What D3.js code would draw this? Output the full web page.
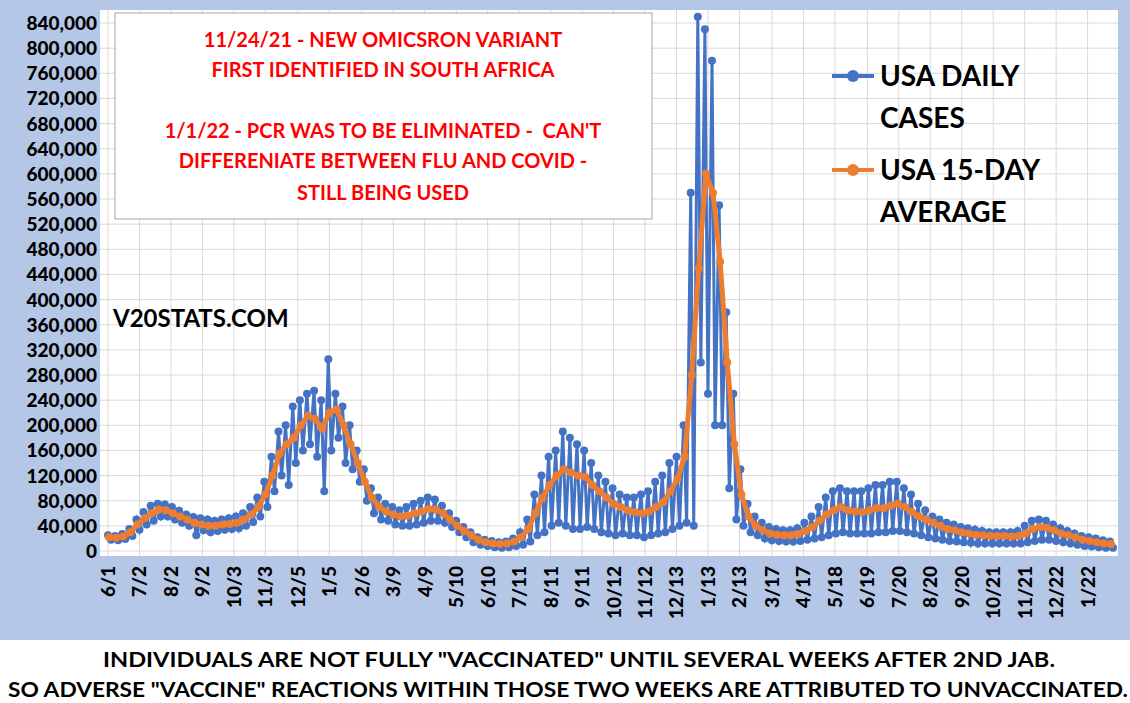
<!DOCTYPE html>
<html><head><meta charset="utf-8">
<script src="https://cdn.jsdelivr.net/npm/d3@7"></script>
<style>body{margin:0;background:#fff}svg{display:block}</style>
</head><body>
<svg id="chart" width="1130" height="703"></svg>
<script>
// weekly readings (thousands), first week = 6/1/2020
var avgCases = [22,21,23,30,42,52,60,66,65,60,55,50,45,42,40,40,42,43,45,50,58,70,
  90,120,155,170,180,200,215,210,195,220,225,200,170,
  140,110,85,70,63,58,55,56,60,63,67,66,60,50,40,32,25,18,
  14,12,11,12,15,22,35,
  60,85,105,120,130,125,120,118,105,95,85,75,70,65,62,60,63,70,78,95,115,150,
  280,450,600,570,460,300,170,90,55,
  40,33,28,26,25,25,27,32,38,48,58,65,70,65,63,62,65,68,68,72,75,70,62,55,50,45,40,35,33,30,28,26,25,24,24,24,23,24,28,35,38,37,33,28,25,22,18,16,14,12,11];
var dailyHigh = [25,24,27,35,50,62,72,75,74,70,64,58,54,52,50,48,50,52,55,60,70,85,
  110,150,190,200,230,240,250,255,240,305,250,230,200,
  160,130,100,85,75,70,65,70,75,80,85,82,72,60,48,38,30,22,
  18,16,14,15,20,30,50,
  90,120,150,160,190,180,170,160,140,120,110,100,90,85,85,90,95,110,120,140,150,200,
  570,850,830,780,550,380,250,130,75,
  55,45,38,35,33,33,36,45,55,70,85,95,100,95,95,95,100,105,105,110,110,100,90,75,65,55,50,45,42,38,36,34,32,30,30,30,30,32,40,48,50,48,42,36,32,28,24,22,20,17,15];
var dailyLow = [18,17,19,24,34,42,48,55,55,50,45,40,25,33,30,32,34,35,36,40,46,55,
  70,95,120,105,140,160,170,150,95,160,180,140,130,
  110,80,60,50,48,42,40,40,42,45,48,48,45,38,30,22,14,10,
  8,6,5,6,8,10,15,
  25,30,40,45,40,35,35,38,35,30,28,25,28,25,25,22,25,28,30,35,40,45,
  40,300,250,200,200,100,50,40,30,
  25,20,17,16,15,15,16,18,20,22,25,28,30,28,28,28,28,30,30,32,32,30,28,25,22,20,18,16,15,14,13,12,12,12,12,12,12,12,14,16,18,18,16,14,12,10,8,7,6,5,5];
var tickDates = ["2020-06-01","2020-07-02","2020-08-02","2020-09-02","2020-10-03","2020-11-03","2020-12-05",
  "2021-01-05","2021-02-06","2021-03-09","2021-04-09","2021-05-10","2021-06-10","2021-07-11","2021-08-11",
  "2021-09-11","2021-10-12","2021-11-12","2021-12-13","2022-01-13","2022-02-13","2022-03-17","2022-04-17",
  "2022-05-18","2022-06-19","2022-07-20","2022-08-20","2022-09-20","2022-10-21","2022-11-21","2022-12-22","2023-01-22"];
var yTicks = d3.range(0, 840001, 40000);

var parse = d3.timeParse("%Y-%m-%d");
var start = parse("2020-06-01");
var wk = function(i, off){ return d3.timeDay.offset(start, i*7 + (off||0)); };

var svg = d3.select("#chart");
svg.append("rect").attr("width",1130).attr("height",640).attr("fill","#b4c7e7");
svg.append("rect").attr("x",100).attr("y",10).attr("width",1018).attr("height",546).attr("fill","#fff");

var x = d3.scaleTime().domain([start, parse("2023-02-16")]).range([108, 1113]);
var y = d3.scaleLinear().domain([0, 840000]).range([551, 23]);

// grid
svg.append("g").selectAll("line").data(yTicks).join("line")
  .attr("x1",100).attr("x2",1118).attr("y1",d=>y(d)).attr("y2",d=>y(d))
  .attr("stroke","#d9d9d9");
svg.append("g").selectAll("line").data(tickDates).join("line")
  .attr("x1",d=>x(parse(d))).attr("x2",d=>x(parse(d))).attr("y1",10).attr("y2",556)
  .attr("stroke","#d9d9d9");

// y axis labels
svg.append("g").selectAll("text").data(yTicks).join("text")
  .attr("x",97).attr("y",d=>y(d)+7).attr("text-anchor","end")
  .attr("font-family","Lato, sans-serif").attr("font-weight","900").attr("font-size",19)
  .text(d3.format(","));
// x axis labels
svg.append("g").selectAll("text").data(tickDates).join("text")
  .attr("transform",d=>"translate("+(x(parse(d))+7)+",566) rotate(-90)")
  .attr("text-anchor","end")
  .attr("font-family","Lato, sans-serif").attr("font-weight","900").attr("font-size",19)
  .text(d=>d3.timeFormat("%-m/%-d")(parse(d)));

// series
var daily = [];
dailyHigh.forEach(function(h,i){
  daily.push({d: wk(i,0), v: h*1000});
  daily.push({d: wk(i,3), v: dailyLow[i]*1000});
});
var avg = avgCases.map((v,i)=>({d: wk(i,1), v: v*1000}));
var line = d3.line().x(p=>x(p.d)).y(p=>y(p.v));

function series(data, col, w){
  svg.append("path").datum(data).attr("d",line).attr("fill","none")
    .attr("stroke",col).attr("stroke-width",w);
  svg.append("g").selectAll("circle").data(data).join("circle")
    .attr("cx",p=>x(p.d)).attr("cy",p=>y(p.v)).attr("r",4).attr("fill",col);
}
series(daily, "#4472c4", 3);
series(avg, "#ed7d31", 5);

// annotation box
svg.append("rect").attr("x",115).attr("y",13).attr("width",537).attr("height",206)
  .attr("fill","#fff").attr("stroke","#a6a6a6");
var notes = [["11/24/21 - NEW OMICSRON VARIANT",47],["FIRST IDENTIFIED IN SOUTH AFRICA",77],
  ["1/1/22 - PCR WAS TO BE ELIMINATED -  CAN'T",138],["DIFFERENIATE BETWEEN FLU AND COVID -",168],
  ["STILL BEING USED",200]];
svg.append("g").selectAll("text").data(notes).join("text")
  .attr("x",383).attr("y",d=>d[1]).attr("text-anchor","middle")
  .attr("font-family","Lato, sans-serif").attr("font-weight","bold").attr("font-size",20)
  .attr("fill","#ff0000").style("white-space","pre").text(d=>d[0]);

svg.append("text").attr("x",113).attr("y",327).attr("font-family","Lato, sans-serif")
  .attr("font-weight","bold").attr("font-size",24).text("V20STATS.COM");

// legend
var leg = [["#4472c4","USA DAILY","CASES",76],["#ed7d31","USA 15-DAY","AVERAGE",170]];
leg.forEach(function(l){
  svg.append("line").attr("x1",832).attr("x2",874).attr("y1",l[3]).attr("y2",l[3])
    .attr("stroke",l[0]).attr("stroke-width",4);
  svg.append("circle").attr("cx",853).attr("cy",l[3]).attr("r",6).attr("fill",l[0]);
  svg.append("text").attr("x",880).attr("y",l[3]+10).attr("font-family","Lato, sans-serif")
    .attr("font-weight","bold").attr("font-size",28).text(l[1]);
  svg.append("text").attr("x",880).attr("y",l[3]+52).attr("font-family","Lato, sans-serif")
    .attr("font-weight","bold").attr("font-size",28).text(l[2]);
});

// footer
svg.append("text").attr("x",103).attr("y",667)
  .attr("font-family","Lato, sans-serif").attr("font-weight","bold").attr("font-size",20)
  .attr("textLength",952).attr("lengthAdjust","spacingAndGlyphs")
  .text('INDIVIDUALS ARE NOT FULLY "VACCINATED" UNTIL SEVERAL WEEKS AFTER 2ND JAB.');
svg.append("text").attr("x",8).attr("y",697)
  .attr("font-family","Lato, sans-serif").attr("font-weight","bold").attr("font-size",20)
  .attr("textLength",1120).attr("lengthAdjust","spacingAndGlyphs")
  .text('SO ADVERSE "VACCINE" REACTIONS WITHIN THOSE TWO WEEKS ARE ATTRIBUTED TO UNVACCINATED.');
</script>
</body></html>
